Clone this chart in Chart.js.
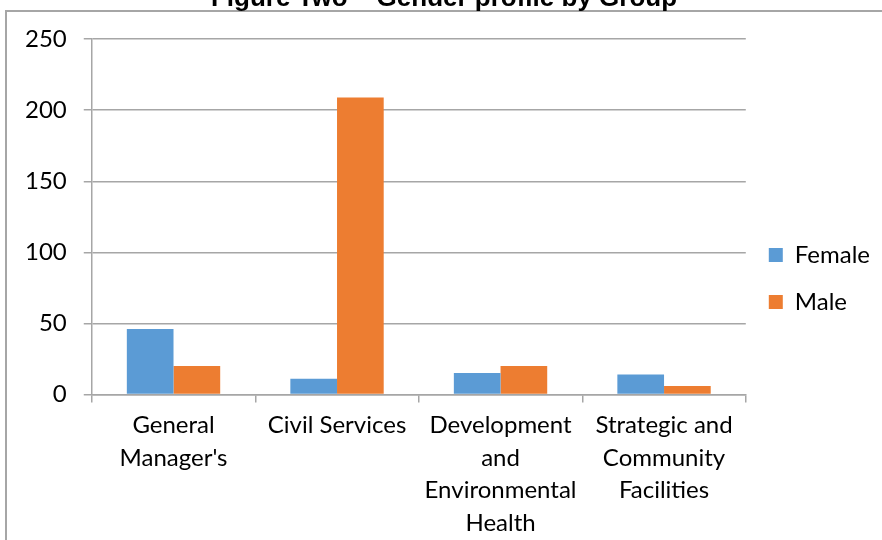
<!DOCTYPE html>
<html>
<head>
<meta charset="utf-8">
<script src="https://cdn.jsdelivr.net/npm/chart.js@4/dist/chart.umd.min.js"></script>
<style>
  html, body { margin: 0; padding: 0; background: #fff; overflow: hidden; }
  #frame { position: absolute; left: 5px; top: 10px; width: 900px; height: 600px; border: 2px solid #a6a6a6; }
  #wrap { position: absolute; left: 0; top: -30px; width: 882px; height: 576px; }
</style>
</head>
<body>
<div id="frame"></div>
<div id="wrap"><canvas id="chart"></canvas></div>
<script>
const categories = [
  ['General', "Manager's"],
  'Civil Services',
  ['Development', 'and', 'Environmental', 'Health'],
  ['Strategic and', 'Community', 'Facilities']
];
const female = [46, 11, 15, 14];
const male = [20, 209, 20, 6];
const yTicks = [0, 50, 100, 150, 200, 250];

const gridGray = '#a6a6a6';
const font = 'Lato, "Open Sans", sans-serif';

const ctx = document.getElementById('chart');
new Chart(ctx, {
  type: 'bar',
  data: {
    labels: categories,
    datasets: [
      { label: 'Female', data: female, backgroundColor: '#5b9bd5', barPercentage: 1, categoryPercentage: 0.571 },
      { label: 'Male', data: male, backgroundColor: '#ed7d31', barPercentage: 1, categoryPercentage: 0.571 }
    ]
  },
  options: {
    responsive: true,
    maintainAspectRatio: false,
    animation: false,
    layout: { padding: { left: 8, right: 2, top: 0, bottom: 0 } },
    plugins: {
      title: {
        display: true,
        text: 'Figure Two – Gender profile by Group',
        color: '#000',
        font: { family: '"Liberation Sans", Arial, sans-serif', size: 26, weight: 'bold' },
        padding: { top: 13, bottom: 25 }
      },
      legend: {
        position: 'right',
        title: { display: true, text: ' ', font: { size: 10 }, padding: { top: 0, bottom: 29 } },
        labels: {
          color: '#000',
          font: { family: font, size: 24 },
          boxWidth: 14,
          boxHeight: 14,
          padding: 23
        }
      },
      tooltip: { enabled: false }
    },
    scales: {
      x: {
        grid: { display: true, drawOnChartArea: false, offset: true, color: gridGray, tickLength: 8, lineWidth: 1.5 },
        border: { color: gridGray, width: 1.5 },
        ticks: { color: '#000', font: { family: font, size: 24, lineHeight: 1.35 }, padding: 7, maxRotation: 0, autoSkip: false }
      },
      y: {
        min: 0,
        max: 250,
        afterBuildTicks: (axis) => { axis.ticks = yTicks.map(v => ({ value: v })); },
        grid: { color: gridGray, tickLength: 8, lineWidth: 1.5 },
        border: { color: gridGray, width: 1.5 },
        ticks: { color: '#000', font: { family: font, size: 24 }, padding: 17 }
      }
    }
  }
});
</script>
</body>
</html>
